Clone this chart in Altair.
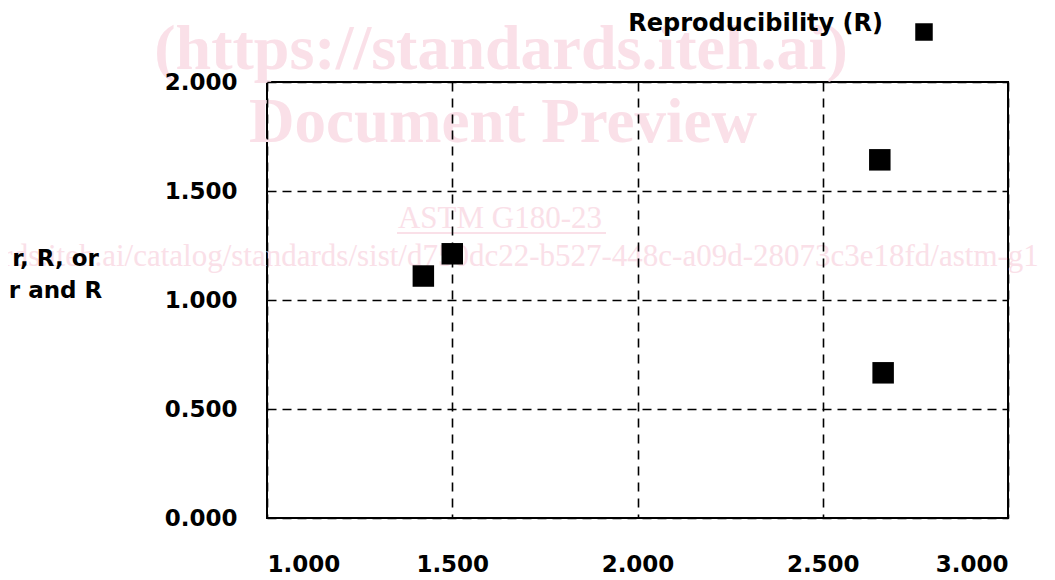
import altair as alt
import pandas as pd

# ---- data ----
x_vals = [1.422, 1.500, 2.654, 2.663]
y_vals = [1.110, 1.212, 1.643, 0.666]
series = ["Reproducibility (R)"] * 4

x_ticks = [1.0, 1.5, 2.0, 2.5, 3.0]
y_ticks = [0.0, 0.5, 1.0, 1.5, 2.0]

legend_label = "Reproducibility (R)"
y_title = ["r, R, or", "r and R"]

wm_big = ["(https://standards.iteh.ai)", "Document Preview"]
wm_small = ["ASTM G180-23"]
wm_url = ["https://standards.iteh.ai/catalog/standards/sist/d750dc22-b527-448c-a09d-28073c3e18fd/astm-g180-23"]

FONT = "DejaVu Sans"
WM_COLOR = "#fae0e8"

df = pd.DataFrame({"x": x_vals, "y": y_vals, "series": series})

base = alt.Chart(df)

# watermark (behind everything)
wm1 = alt.Chart(pd.DataFrame({"t": [wm_big[0]]})).mark_text(
    font="Liberation Serif", fontWeight="bold", fontSize=64, color=WM_COLOR,
    align="center", baseline="alphabetic"
).encode(text="t:N", x=alt.value(234), y=alt.value(-13))

wm2 = alt.Chart(pd.DataFrame({"t": [wm_big[1]]})).mark_text(
    font="Liberation Serif", fontWeight="bold", fontSize=63, color=WM_COLOR,
    align="center", baseline="alphabetic"
).encode(text="t:N", x=alt.value(236), y=alt.value(60))

wm3 = alt.Chart(pd.DataFrame({"t": wm_small})).mark_text(
    font="Liberation Serif", fontSize=31, color=WM_COLOR,
    align="center", baseline="alphabetic"
).encode(text="t:N", x=alt.value(233), y=alt.value(146))

wm3u = alt.Chart(pd.DataFrame({"t": wm_small})).mark_rule(
    color=WM_COLOR, strokeWidth=2
).encode(x=alt.value(130), x2=alt.value(339), y=alt.value(151))

wm4 = alt.Chart(pd.DataFrame({"t": wm_url})).mark_text(
    font="Liberation Serif", fontSize=31, color=WM_COLOR,
    align="left", baseline="alphabetic"
).encode(text="t:N", x=alt.value(-430), y=alt.value(184))

points = base.mark_point(
    shape="square", filled=True, size=462, color="black", opacity=1
).encode(
    x=alt.X("x:Q",
            scale=alt.Scale(domain=[1, 3], nice=False, zero=False),
            axis=alt.Axis(values=x_ticks, format=".3f", title=None,
                          grid=True, gridDash=[9, 7], gridColor="black",
                          gridWidth=1.6, gridOpacity=1,
                          ticks=False, tickSize=0, domain=False,
                          labelFont=FONT, labelFontWeight="bold",
                          labelFontSize=23, labelColor="black",
                          labelPadding=35, labelBaseline="top", zindex=1)),
    y=alt.Y("y:Q",
            scale=alt.Scale(domain=[0, 2], nice=False, zero=True),
            axis=alt.Axis(values=y_ticks, format=".3f",
                          title=y_title, titleAngle=0, titleAlign="center",
                          titleBaseline="alphabetic", titleX=-212, titleY=183,
                          titleFont=FONT, titleFontWeight="bold",
                          titleFontSize=23, titleColor="black",
                          titleLineHeight=32,
                          grid=True, gridDash=[9, 6], gridColor="black",
                          gridWidth=1.6, gridOpacity=1,
                          ticks=False, tickSize=0, domain=False,
                          labelFont=FONT, labelFontWeight="bold",
                          labelFontSize=23, labelColor="black",
                          labelPadding=30, zindex=1)),
)

leg_text = alt.Chart(pd.DataFrame({"t": [legend_label]})).mark_text(
    font=FONT, fontWeight="bold", fontSize=24, color="black",
    align="right", baseline="alphabetic"
).encode(text="t:N", x=alt.value(616), y=alt.value(-51))

leg_sym = alt.Chart(pd.DataFrame({"t": [legend_label]})).mark_point(
    shape="square", filled=True, size=306, color="black", opacity=1
).encode(x=alt.value(657), y=alt.value(-50))

chart = alt.layer(wm1, wm2, wm3, wm3u, wm4, points, leg_text, leg_sym).properties(
    width=741, height=436,
    autosize=alt.AutoSizeParams(type="none"),
    padding={"left": 259, "top": 74, "right": 30, "bottom": 58},
    background="white",
).configure_view(
    stroke="black", strokeWidth=2
)

chart.save("out.html", embed_options={"renderer": "svg", "actions": False})
